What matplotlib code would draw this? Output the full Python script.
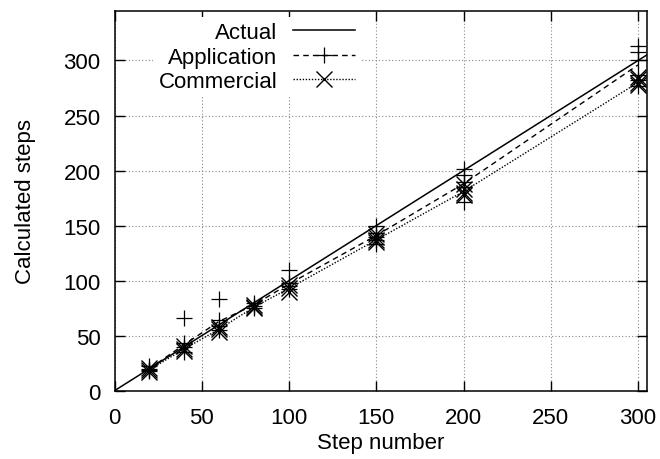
import matplotlib
matplotlib.use("Agg")
import matplotlib.pyplot as plt

plt.rcParams['font.family'] = ['Liberation Sans', 'DejaVu Sans']

steps = [20, 40, 60, 80, 100, 150, 200, 300]

# individual trial results
app_trials = [
    [22, 20, 19, 18],
    [66, 43, 40, 35],
    [83, 64, 59, 55],
    [80, 77, 75],
    [110, 98, 95, 92],
    [150, 143, 140, 137, 133],
    [201, 196, 190, 185, 171],
    [313, 308, 300, 287, 282, 277],
]
com_trials = [
    [21, 19, 17],
    [41, 38, 36],
    [58, 56, 53],
    [78, 76, 75],
    [96, 93, 90],
    [142, 140, 137, 135],
    [188, 183, 180, 178],
    [285, 283, 280, 278],
]

# average lines
app_line = [20, 42, 63, 78, 97, 141, 188, 296]
com_line = [19, 38, 56, 76, 93, 137, 181, 280]

x_range = [0, 305]
y_range = [0, 345]
xticks = [0, 50, 100, 150, 200, 250, 300]
yticks = [0, 50, 100, 150, 200, 250, 300]

FS = 16

fig = plt.figure(figsize=(6.6, 4.6), dpi=100)
ax = fig.add_axes([0.1735, 0.1485, 0.8065, 0.8255])

ax.set_xlim(x_range)
ax.set_ylim(y_range)
ax.set_xticks(xticks)
ax.set_yticks(yticks)
ax.grid(True, color='#888888', linestyle=(0, (1, 2)), linewidth=0.8)
ax.set_axisbelow(True)
ax.tick_params(direction='in', length=7, width=1, top=True, right=True,
               labelsize=FS)
ax.tick_params(axis='x', pad=12)
ax.tick_params(axis='y', pad=10)
for s in ax.spines.values():
    s.set_linewidth(1.1)

# Actual
ax.plot(x_range, x_range, color='black', linewidth=1.1, label='Actual', zorder=3)

# Application
ax.plot(steps, app_line, color='black', linestyle=(0, (4, 3)), linewidth=1.0, zorder=3)
for s, vals in zip(steps, app_trials):
    ax.plot([s] * len(vals), vals, linestyle='none', marker='+', color='black',
            markersize=12, markeredgewidth=0.9, zorder=4)
ax.plot([], [], color='black', linestyle=(0, (4, 3)), linewidth=1.0,
        marker='+', markersize=12, markeredgewidth=0.9,
        label='Application')

# Commercial
ax.plot(steps, com_line, color='black', linestyle=(0, (1, 1.2)), linewidth=1.0, zorder=3)
for s, vals in zip(steps, com_trials):
    ax.plot([s] * len(vals), vals, linestyle='none', marker='x', color='black',
            markersize=11, markeredgewidth=1.0, zorder=4)
ax.plot([], [], color='black', linestyle=(0, (1, 1.2)), linewidth=1.0,
        marker='x', markersize=11, markeredgewidth=1.0,
        label='Commercial')

leg = ax.legend(loc='upper left', bbox_to_anchor=(0.072, 0.985), markerfirst=False,
                frameon=True, fancybox=False, edgecolor='none', facecolor='white',
                framealpha=1, fontsize=FS, handlelength=2.8, handletextpad=0.7,
                labelspacing=0.15, borderpad=0.25, borderaxespad=0.0, numpoints=1)
leg.set_zorder(5)

ax.set_xlabel('Step number', fontsize=FS, labelpad=2.5)
ax.set_ylabel('Calculated steps', fontsize=FS, labelpad=20)

fig.savefig('out.png', dpi=100)
